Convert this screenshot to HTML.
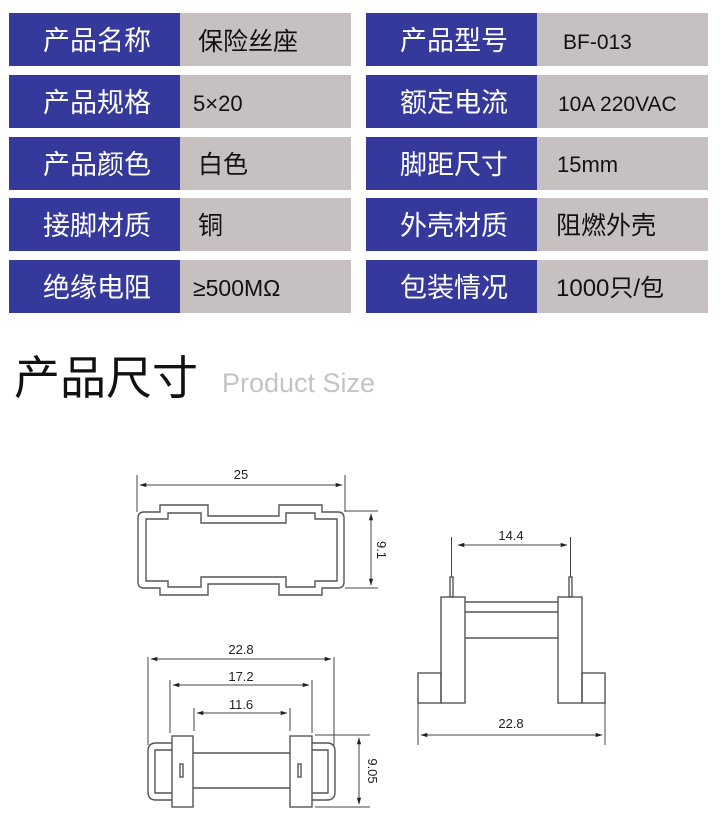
<!DOCTYPE html>
<html><head><meta charset="utf-8"><style>
html,body{margin:0;padding:0;background:#fff;}
svg{display:block;}
.lb{font-family:"Liberation Sans","Noto Sans CJK SC",sans-serif;font-size:27px;fill:#fff;text-anchor:middle;}
.vl{font-family:"Liberation Sans","Noto Sans CJK SC",sans-serif;font-size:25px;fill:#111;}
.dm{font-family:"Liberation Sans",sans-serif;font-size:13px;fill:#222;text-anchor:middle;}
.ln{stroke:#555;stroke-width:1.4;fill:none;}
.th{stroke:#444;stroke-width:1;fill:none;}
</style></head><body>
<svg width="727" height="827" viewBox="0 0 727 827" xmlns="http://www.w3.org/2000/svg">
<defs>
<marker id="a" viewBox="0 0 10 10" refX="9" refY="5" markerWidth="7" markerHeight="7" orient="auto-start-reverse"><path d="M0,2 L10,5 L0,8 z" fill="#222"/></marker>
</defs>
<g>
<rect x="9" y="13" width="171" height="53" fill="#35399c"/><rect x="180" y="13" width="171" height="53" fill="#c7c0c1"/>
<rect x="366" y="13" width="171" height="53" fill="#35399c"/><rect x="537" y="13" width="171" height="53" fill="#c7c0c1"/>
<rect x="9" y="75" width="171" height="53" fill="#35399c"/><rect x="180" y="75" width="171" height="53" fill="#c7c0c1"/>
<rect x="366" y="75" width="171" height="53" fill="#35399c"/><rect x="537" y="75" width="171" height="53" fill="#c7c0c1"/>
<rect x="9" y="137" width="171" height="53" fill="#35399c"/><rect x="180" y="137" width="171" height="53" fill="#c7c0c1"/>
<rect x="366" y="137" width="171" height="53" fill="#35399c"/><rect x="537" y="137" width="171" height="53" fill="#c7c0c1"/>
<rect x="9" y="198" width="171" height="53" fill="#35399c"/><rect x="180" y="198" width="171" height="53" fill="#c7c0c1"/>
<rect x="366" y="198" width="171" height="53" fill="#35399c"/><rect x="537" y="198" width="171" height="53" fill="#c7c0c1"/>
<rect x="9" y="260" width="171" height="53" fill="#35399c"/><rect x="180" y="260" width="171" height="53" fill="#c7c0c1"/>
<rect x="366" y="260" width="171" height="53" fill="#35399c"/><rect x="537" y="260" width="171" height="53" fill="#c7c0c1"/>

<text class="lb" x="97" y="50">产品名称</text><text class="vl" x="198" y="50">保险丝座</text>
<text class="lb" x="454" y="50">产品型号</text><text class="vl" x="563" y="49" style="font-size:21px">BF-013</text>
<text class="lb" x="97" y="112">产品规格</text><text class="vl" x="193" y="111" style="font-size:22px">5×20</text>
<text class="lb" x="454" y="112">额定电流</text><text class="vl" x="558" y="111" style="font-size:21px">10A 220VAC</text>
<text class="lb" x="97" y="174">产品颜色</text><text class="vl" x="198" y="173">白色</text>
<text class="lb" x="454" y="174">脚距尺寸</text><text class="vl" x="557" y="172" style="font-size:22px">15mm</text>
<text class="lb" x="97" y="235">接脚材质</text><text class="vl" x="198" y="234">铜</text>
<text class="lb" x="454" y="235">外壳材质</text><text class="vl" x="556" y="234">阻燃外壳</text>
<text class="lb" x="97" y="297">绝缘电阻</text><text class="vl" x="193" y="296" style="font-size:23px">≥500MΩ</text>
<text class="lb" x="454" y="297">包装情况</text><text class="vl" x="556" y="296" style="font-size:24px">1000只/包</text>
</g>

<text x="14" y="394" style="font-family:'Liberation Sans','Noto Sans CJK SC',sans-serif;font-size:46px;fill:#111">产品尺寸</text>
<text x="222" y="392" style="font-family:'Liberation Sans',sans-serif;font-size:27px;fill:#c4c4c4">Product Size</text>

<!-- top view -->
<g class="ln">
<path d="M144,512 H160 V505 H208 V516 H279 V505 H322 V512 H338 Q344,512 344,518 V582 Q344,588 338,588 H322 V595 H279 V584 H208 V595 H160 V588 H144 Q138,588 138,582 V518 Q138,512 144,512 Z"/>
<path d="M146,519 H168 V513 H201 V523 H286 V513 H315 V519 H337 V581 H315 V587 H286 V577 H201 V587 H168 V581 H146 Z"/>
</g>
<g class="th">
<line x1="137" y1="475" x2="137" y2="512"/><line x1="345" y1="475" x2="345" y2="512"/>
<line x1="140" y1="485" x2="342" y2="485" marker-start="url(#a)" marker-end="url(#a)"/>
<line x1="345" y1="511" x2="378" y2="511"/><line x1="345" y1="588" x2="378" y2="588"/>
<line x1="371" y1="514" x2="371" y2="585" marker-start="url(#a)" marker-end="url(#a)"/>
</g>
<text class="dm" x="241" y="479">25</text>
<text class="dm" transform="translate(377,550) rotate(90)">9.1</text>

<!-- bottom view -->
<g class="th">
<line x1="148" y1="657" x2="148" y2="745"/><line x1="334" y1="657" x2="334" y2="745"/>
<line x1="151" y1="659" x2="331" y2="659" marker-start="url(#a)" marker-end="url(#a)"/>
<line x1="170" y1="680" x2="170" y2="733"/><line x1="312" y1="680" x2="312" y2="733"/>
<line x1="173" y1="685" x2="309" y2="685" marker-start="url(#a)" marker-end="url(#a)"/>
<line x1="194" y1="708" x2="194" y2="731"/><line x1="290" y1="708" x2="290" y2="731"/>
<line x1="197" y1="713" x2="287" y2="713" marker-start="url(#a)" marker-end="url(#a)"/>
<line x1="315" y1="735" x2="370" y2="735"/><line x1="315" y1="807" x2="370" y2="807"/>
<line x1="359" y1="738" x2="359" y2="804" marker-start="url(#a)" marker-end="url(#a)"/>
</g>
<text class="dm" x="241" y="654">22.8</text>
<text class="dm" x="241" y="681">17.2</text>
<text class="dm" x="241" y="709">11.6</text>
<text class="dm" transform="translate(368,771) rotate(90)">9.05</text>
<g class="ln">
<path d="M172,743 H156 Q148,743 148,751 V792 Q148,800 156,800 H172"/>
<path d="M172,750 H155 V793 H172"/>
<path d="M312,743 H327 Q335,743 335,751 V792 Q335,800 327,800 H312"/>
<path d="M312,750 H328 V793 H312"/>
<rect x="172" y="736" width="21" height="71"/>
<rect x="290" y="736" width="22" height="71"/>
<line x1="193" y1="753" x2="290" y2="753"/><line x1="193" y1="788" x2="290" y2="788"/>
<rect x="180" y="764" width="3" height="13"/><rect x="298" y="764" width="3" height="13"/>
</g>

<!-- side view -->
<g class="ln">
<rect x="441" y="597" width="24" height="106"/>
<rect x="558" y="597" width="24" height="106"/>
<rect x="418" y="673" width="23" height="30"/>
<rect x="582" y="673" width="23" height="30"/>
<line x1="465" y1="602" x2="558" y2="602"/>
<line x1="465" y1="612" x2="558" y2="612"/>
<line x1="465" y1="638" x2="558" y2="638"/>
<rect x="450" y="577" width="3" height="20"/>
<rect x="569" y="577" width="3" height="20"/>
</g>
<g class="th">
<line x1="451.5" y1="537" x2="451.5" y2="577"/><line x1="570.5" y1="537" x2="570.5" y2="577"/>
<line x1="458" y1="545" x2="567" y2="545" marker-start="url(#a)" marker-end="url(#a)"/>
<line x1="418" y1="703" x2="418" y2="745"/><line x1="605" y1="703" x2="605" y2="745"/>
<line x1="421" y1="735" x2="602" y2="735" marker-start="url(#a)" marker-end="url(#a)"/>
</g>
<text class="dm" x="511" y="540">14.4</text>
<text class="dm" x="511" y="728">22.8</text>
</svg>
</body></html>
